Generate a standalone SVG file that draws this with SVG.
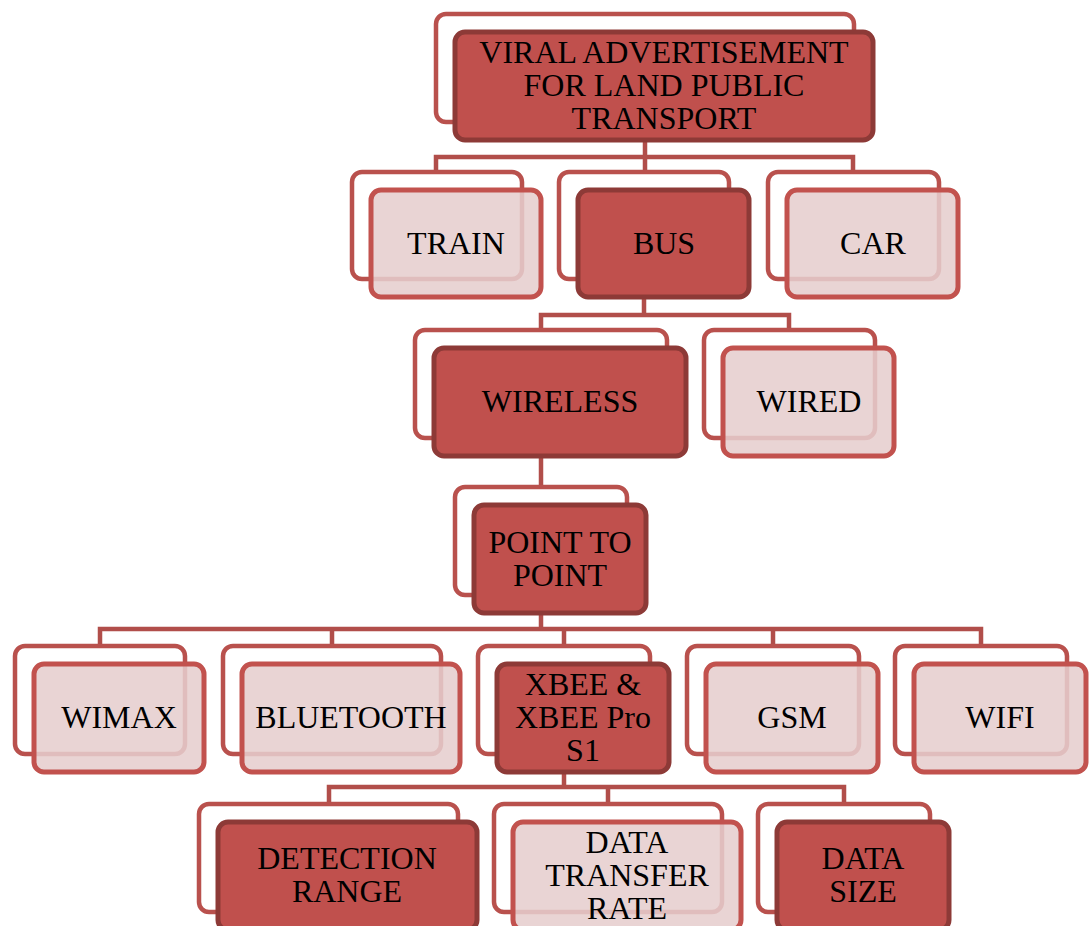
<svg xmlns="http://www.w3.org/2000/svg" width="1091" height="926" viewBox="0 0 1091 926">
<style>
.bg{fill:#ffffff}
.back{fill:#ffffff;stroke:#b9514d;stroke-width:4.5}
.dark{fill:#c0504d;stroke:#8d3a37;stroke-width:5}
.light{fill:#e6cece;fill-opacity:0.87;stroke:#c2524e;stroke-width:5}
.conn{fill:none;stroke:#b14e4a;stroke-width:4.5}
text{font-family:"Liberation Serif","Times New Roman",serif;font-size:32px;fill:#000;text-anchor:middle}
</style>
<rect class="bg" x="0" y="0" width="1091" height="926"/>
<g id="connectors">
<path class="conn" d="M645 140V157M436 172V157H853V172M645 157V172"/>
<path class="conn" d="M644 297V315M541 330V315H789V330"/>
<path class="conn" d="M541 456V487"/>
<path class="conn" d="M541 613V629M100 646V629H981V646M332 629V646M564 629V646M773 629V646"/>
<path class="conn" d="M564 772V787M329 804V787H844V804M608 787V804"/>
</g>
<g id="root">
<rect class="back" x="436" y="14" width="418" height="108" rx="10"/>
<rect class="dark" x="455" y="32" width="418" height="108" rx="10"/>
<text x="664" y="63">VIRAL ADVERTISEMENT</text>
<text x="664" y="96">FOR LAND PUBLIC</text>
<text x="664" y="129">TRANSPORT</text>
</g>
<g id="train">
<rect class="back" x="352" y="172" width="170" height="107" rx="10"/>
<rect class="light" x="371" y="190" width="170" height="107" rx="10"/>
<text x="456" y="254">TRAIN</text>
</g>
<g id="bus">
<rect class="back" x="559" y="172" width="170" height="107" rx="10"/>
<rect class="dark" x="578" y="190" width="171" height="107" rx="10"/>
<text x="664" y="254">BUS</text>
</g>
<g id="car">
<rect class="back" x="768" y="172" width="171" height="107" rx="10"/>
<rect class="light" x="787" y="190" width="171" height="107" rx="10"/>
<text x="873" y="254">CAR</text>
</g>
<g id="wireless">
<rect class="back" x="415" y="330" width="252" height="108" rx="10"/>
<rect class="dark" x="434" y="348" width="252" height="108" rx="10"/>
<text x="560" y="412">WIRELESS</text>
</g>
<g id="wired">
<rect class="back" x="704" y="330" width="171" height="108" rx="10"/>
<rect class="light" x="723" y="348" width="171" height="108" rx="10"/>
<text x="809" y="412">WIRED</text>
</g>
<g id="p2p">
<rect class="back" x="455" y="487" width="172" height="108" rx="10"/>
<rect class="dark" x="474" y="505" width="172" height="108" rx="10"/>
<text x="560" y="553">POINT TO</text>
<text x="560" y="586">POINT</text>
</g>
<g id="wimax">
<rect class="back" x="15" y="646" width="170" height="108" rx="10"/>
<rect class="light" x="34" y="664" width="170" height="108" rx="10"/>
<text x="119" y="728">WIMAX</text>
</g>
<g id="bluetooth">
<rect class="back" x="223" y="646" width="218" height="108" rx="10"/>
<rect class="light" x="242" y="664" width="218" height="108" rx="10"/>
<text x="351" y="728">BLUETOOTH</text>
</g>
<g id="xbee">
<rect class="back" x="478" y="646" width="172" height="108" rx="10"/>
<rect class="dark" x="497" y="664" width="172" height="108" rx="10"/>
<text x="583" y="695">XBEE &amp;</text>
<text x="583" y="728">XBEE Pro</text>
<text x="583" y="761">S1</text>
</g>
<g id="gsm">
<rect class="back" x="687" y="646" width="172" height="108" rx="10"/>
<rect class="light" x="706" y="664" width="172" height="108" rx="10"/>
<text x="792" y="728">GSM</text>
</g>
<g id="wifi">
<rect class="back" x="895" y="646" width="172" height="108" rx="10"/>
<rect class="light" x="914" y="664" width="172" height="108" rx="10"/>
<text x="1000" y="728">WIFI</text>
</g>
<g id="detection">
<rect class="back" x="199" y="804" width="259" height="108" rx="10"/>
<rect class="dark" x="218" y="822" width="259" height="108" rx="10"/>
<text x="347" y="869">DETECTION</text>
<text x="347" y="902">RANGE</text>
</g>
<g id="transfer">
<rect class="back" x="494" y="804" width="228" height="108" rx="10"/>
<rect class="light" x="513" y="822" width="228" height="108" rx="10"/>
<text x="627" y="853">DATA</text>
<text x="627" y="886">TRANSFER</text>
<text x="627" y="919">RATE</text>
</g>
<g id="datasize">
<rect class="back" x="758" y="804" width="172" height="108" rx="10"/>
<rect class="dark" x="777" y="822" width="172" height="108" rx="10"/>
<text x="863" y="869">DATA</text>
<text x="863" y="902">SIZE</text>
</g>
</svg>
